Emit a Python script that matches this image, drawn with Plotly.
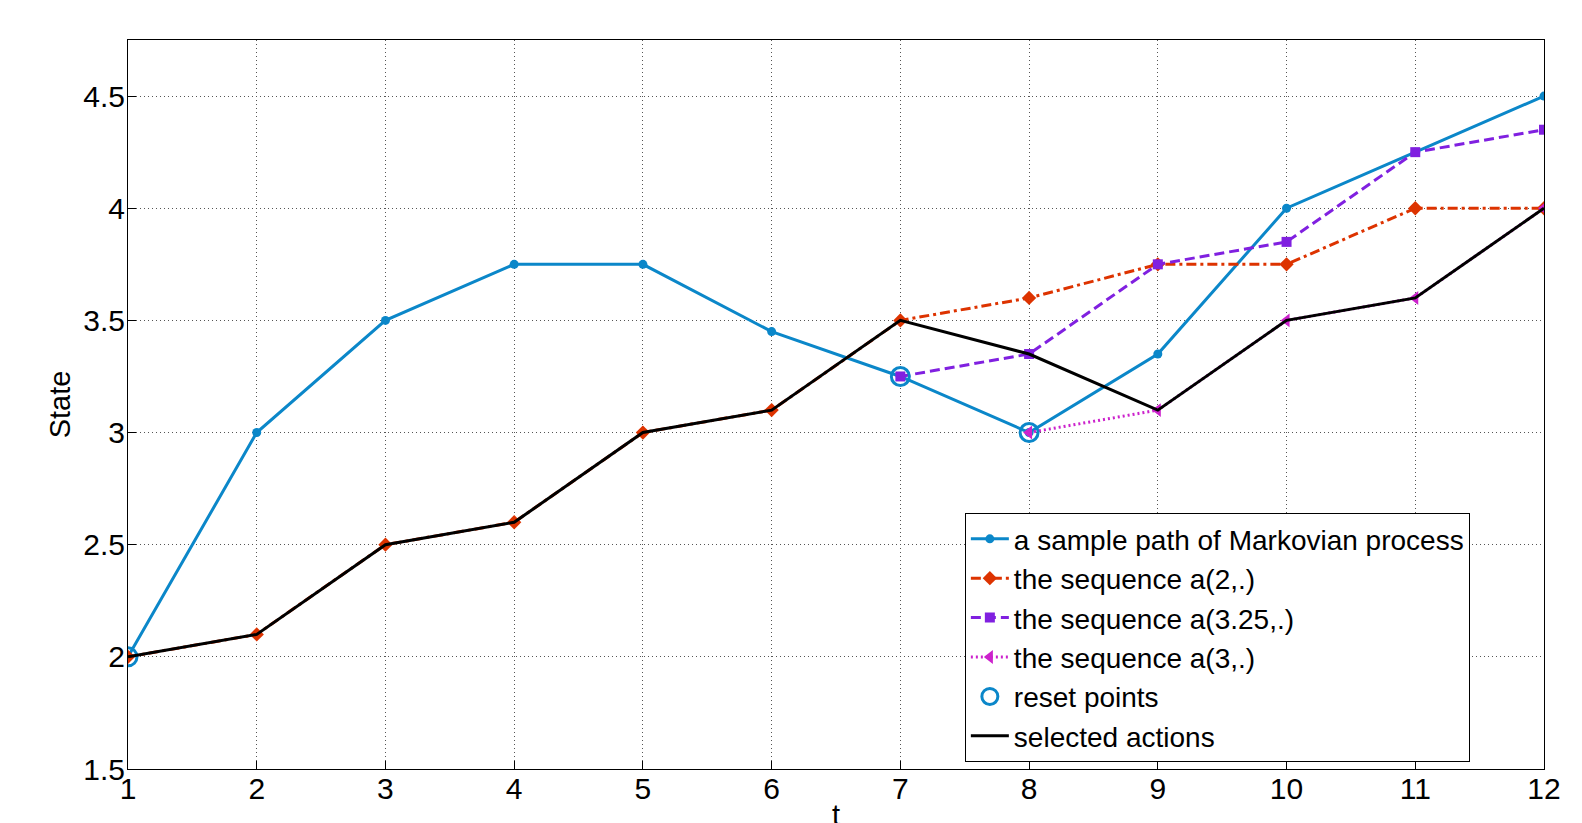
import plotly.graph_objects as go

t = list(range(1, 13))
markov_path = [2, 3, 3.5, 3.75, 3.75, 3.45, 3.25, 3, 3.35, 4, 4.25, 4.5]
seq_a2 = [2, 2.1, 2.5, 2.6, 3, 3.1, 3.5, 3.6, 3.75, 3.75, 4, 4]
t_a325 = [7, 8, 9, 10, 11, 12]
seq_a325 = [3.25, 3.35, 3.75, 3.85, 4.25, 4.35]
t_a3 = [8, 9, 10, 11, 12]
seq_a3 = [3, 3.1, 3.5, 3.6, 4]
t_reset = [1, 7, 8]
reset_vals = [2, 3.25, 3]
selected = [2, 2.1, 2.5, 2.6, 3, 3.1, 3.5, 3.35, 3.1, 3.5, 3.6, 4]
y_ticks = [1.5, 2, 2.5, 3, 3.5, 4, 4.5]
y_tick_text = ["1.5", "2", "2.5", "3", "3.5", "4", "4.5"]

blue = "#0b87c9"
red = "#dd3300"
purple = "#8020e0"
magenta = "#cc22cc"

fig = go.Figure()
fig.add_trace(go.Scatter(x=t, y=markov_path, mode="lines+markers",
                         name="a sample path of Markovian process",
                         line=dict(color=blue, width=3),
                         marker=dict(symbol="circle", size=9, color=blue)))
fig.add_trace(go.Scatter(x=t, y=seq_a2, mode="lines+markers",
                         name="the sequence a(2,.)",
                         line=dict(color=red, width=3, dash="10px,4px,3px,4px"),
                         marker=dict(symbol="diamond", size=11, color=red)))
fig.add_trace(go.Scatter(x=t_a325, y=seq_a325, mode="lines+markers",
                         name="the sequence a(3.25,.)",
                         line=dict(color=purple, width=3, dash="10px,5px"),
                         marker=dict(symbol="square", size=10, color=purple)))
fig.add_trace(go.Scatter(x=t_a3, y=seq_a3, mode="lines+markers",
                         name="the sequence a(3,.)",
                         line=dict(color=magenta, width=3, dash="2px,3px"),
                         marker=dict(symbol="triangle-left", size=12, color=magenta)))
fig.add_trace(go.Scatter(x=t_reset, y=reset_vals, mode="markers",
                         name="reset points",
                         marker=dict(symbol="circle-open", size=18, color=blue,
                                     line=dict(width=3, color=blue))))
fig.add_trace(go.Scatter(x=t, y=selected, mode="lines",
                         name="selected actions",
                         line=dict(color="black", width=3)))

axis_common = dict(showline=True, linecolor="black", linewidth=1, mirror=True,
                   ticks="inside", ticklen=8, tickcolor="black", automargin=False,
                   showgrid=True, gridcolor="#555555", griddash="1px,3px", gridwidth=1,
                   zeroline=False, tickfont=dict(size=30, color="black"))

fig.update_xaxes(range=[1, 12], dtick=1, tick0=1, ticklabelstandoff=-7,
                 title=dict(text="t", font=dict(size=29, color="black"), standoff=0),
                 **axis_common)
fig.update_yaxes(range=[1.5, 4.75], tickvals=y_ticks, ticktext=y_tick_text,
                 ticklabelstandoff=-4,
                 title=dict(text="State", font=dict(size=29, color="black"), standoff=4),
                 **axis_common)

fig.update_layout(
    width=1582, height=823,
    margin=dict(l=120, r=46, t=32, b=62),
    paper_bgcolor="white", plot_bgcolor="white",
    font=dict(family="Liberation Sans, Arial, sans-serif", color="black"),
    legend=dict(x=0.591, y=0.351, xanchor="left", yanchor="top",
                bgcolor="white", bordercolor="black", borderwidth=1,
                font=dict(size=28, color="black"), tracegroupgap=0,
                itemwidth=38),
    showlegend=True,
)

fig.write_html("out.html")
